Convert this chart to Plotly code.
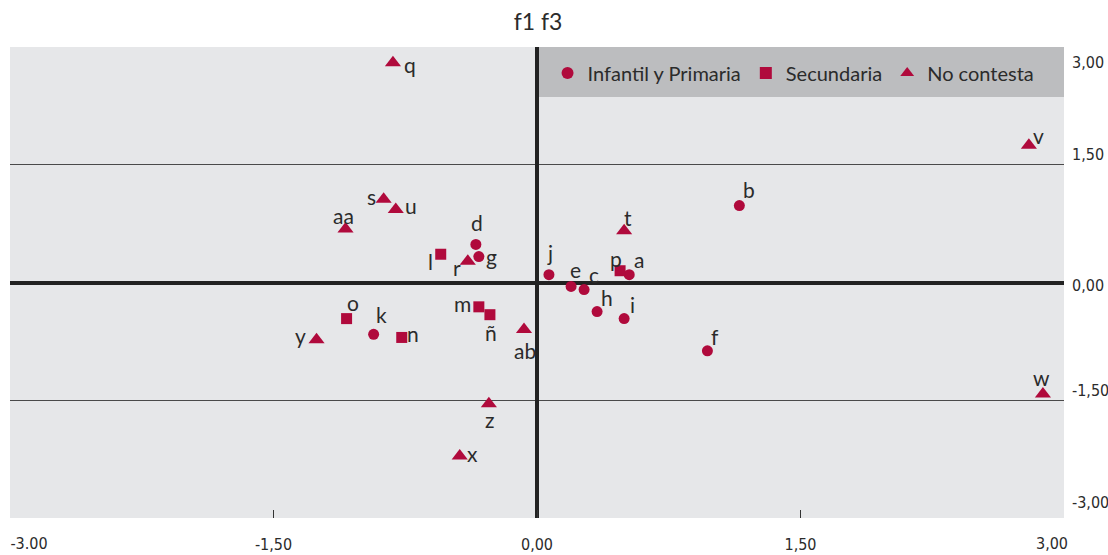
import plotly.graph_objects as go

# Factor scores (f1 on x, f3 on y) for each respondent group
infantil_labels = ["a", "b", "c", "d", "e", "f", "g", "h", "i", "j", "k"]
infantil_f1 = [0.525, 1.152, 0.268, -0.348, 0.194, 0.97, -0.331, 0.342, 0.496, 0.068, -0.93]
infantil_f3 = [0.10, 0.98, -0.09, 0.485, -0.05, -0.87, 0.33, -0.37, -0.46, 0.10, -0.66]

secundaria_labels = ["l", "m", "n", "ñ", "o", "p"]
secundaria_f1 = [-0.548, -0.331, -0.77, -0.268, -1.084, 0.473]
secundaria_f3 = [0.36, -0.31, -0.70, -0.41, -0.46, 0.15]

nocontesta_labels = ["q", "r", "s", "t", "u", "v", "w", "x", "y", "z", "aa", "ab"]
nocontesta_f1 = [-0.82, -0.394, -0.873, 0.496, -0.804, 2.80, 2.88, -0.44, -1.255, -0.274, -1.09, -0.074]
nocontesta_f3 = [2.80, 0.27, 1.06, 0.66, 0.93, 1.75, -1.42, -2.21, -0.73, -1.545, 0.68, -0.60]

tick_vals = [-3, -1.5, 0, 1.5, 3]
x_tick_text = ["-3.00", "-1,50", "0,00", "1,50", "3,00"]
y_tick_text = ["-3,00", "-1,50", "0,00", "1,50", "3,00"]

# Label placement: pixel offset of each label's centre from its marker (dx right, dy down)
label_offsets = {
    "a": (10, -15), "b": (10, -16), "c": (10, -15), "d": (1, -22), "e": (4, -17),
    "f": (8, -14), "g": (13, 0), "h": (10, -14), "i": (8, -14), "j": (1, -22),
    "k": (8, -20), "l": (-10, 7), "m": (-16, -3), "n": (11, -4), "ñ": (1, 18),
    "o": (6, -16), "p": (-4, -12), "q": (17, 2), "r": (-11, 6), "s": (-12, -3),
    "t": (4, -13), "u": (15, -4), "v": (10, -10), "w": (-1, -16), "x": (13, -2),
    "y": (-16, -4), "z": (1, 16), "aa": (-2, -14), "ab": (1, 21),
}

MARK = "#B00A3C"
TXT = "#2b2b2b"
SANS = "Lato, Open Sans, sans-serif"
LABEL_FONT = dict(family=SANS, size=21, color=TXT)
TICK_FONT = dict(family="Liberation Sans Narrow, DejaVu Sans Condensed, sans-serif", size=16, color=TXT)

fig = go.Figure()
groups = [
    ("Infantil y Primaria", "circle", 11, infantil_f1, infantil_f3, infantil_labels),
    ("Secundaria", "square", 11, secundaria_f1, secundaria_f3, secundaria_labels),
    ("No contesta", "triangle-up", 14, nocontesta_f1, nocontesta_f3, nocontesta_labels),
]
for name, symbol, size, xs, ys, labels in groups:
    fig.add_trace(go.Scatter(
        x=xs, y=ys, mode="markers", name=name,
        marker=dict(symbol=symbol, size=size, color=MARK), hoverinfo="skip",
    ))
    for xv, yv, lab in zip(xs, ys, labels):
        dx, dy = label_offsets[lab]
        fig.add_annotation(x=xv, y=yv, xref="x", yref="y", text=lab, showarrow=False,
                           xanchor="center", yanchor="middle", xshift=dx, yshift=-dy,
                           font=LABEL_FONT)

# Empty traces that bring the label-only overlay axes into the figure
for xa, ya in [("x2", "y"), ("x3", "y"), ("x", "y2"), ("x", "y3"), ("x", "y4")]:
    fig.add_trace(go.Scatter(x=[], y=[], xaxis=xa, yaxis=ya, showlegend=False, hoverinfo="skip"))

# Darker band behind the legend in the upper-right quadrant
fig.add_shape(type="rect", xref="x", yref="paper", x0=0, x1=3, y0=0.894, y1=1,
              fillcolor="#BCBDBF", line_width=0, layer="below")


def label_axis(idx, shift, **kw):
    """Overlay axis that only carries a subset of the tick labels, nudged along the axis."""
    return dict(range=[-3, 3], tickvals=[tick_vals[i] for i in idx], ticks="",
                showgrid=False, zeroline=False, showline=False, fixedrange=True,
                automargin=False, ticklabelshift=shift, ticklabeloverflow="allow",
                tickfont=TICK_FONT, **kw)


fig.update_layout(
    width=1108, height=555,
    margin=dict(l=10, r=44, t=47, b=37, autoexpand=False),
    paper_bgcolor="white",
    plot_bgcolor="#E6E7E9",
    title=dict(text="f1 f3", x=0.4856, xanchor="center", y=1 - 22 / 555, yanchor="middle",
               yref="container", font=dict(family=SANS, size=23, color=TXT)),
    showlegend=True,
    legend=dict(orientation="h", x=0.51, xanchor="left", y=0.945, yanchor="middle",
                bgcolor="rgba(0,0,0,0)", font=dict(family=SANS, size=20, color=TXT),
                itemsizing="constant"),
    xaxis=dict(range=[-3, 3], tickvals=tick_vals, ticktext=["", x_tick_text[1], x_tick_text[2], x_tick_text[3], ""],
               showgrid=False, zeroline=True, zerolinecolor="#222222", zerolinewidth=3.5,
               ticks="inside", ticklen=8, tickcolor="#333333", tickwidth=1,
               ticklabelstandoff=15, ticklabeloverflow="allow", tickfont=TICK_FONT,
               showline=False, fixedrange=True, automargin=False),
    xaxis2=label_axis([0], 19, overlaying="x", anchor="y", side="bottom",
                      ticktext=[x_tick_text[0]], ticklabelstandoff=14),
    xaxis3=label_axis([4], -12, overlaying="x", anchor="y", side="bottom",
                      ticktext=[x_tick_text[4]], ticklabelstandoff=14),
    yaxis=dict(range=[-3, 3], tickvals=tick_vals, ticktext=["", y_tick_text[1], "", y_tick_text[3], ""],
               side="right", showgrid=True, gridcolor="#4a4a4a", gridwidth=1,
               zeroline=True, zerolinecolor="#222222", zerolinewidth=3.5,
               ticks="", ticklabelstandoff=7, ticklabelshift=-10, ticklabeloverflow="allow",
               tickfont=TICK_FONT, showline=False, fixedrange=True, automargin=False),
    yaxis2=label_axis([4], 15, overlaying="y", anchor="x", side="right",
                      ticktext=[y_tick_text[4]], ticklabelstandoff=7),
    yaxis3=label_axis([0], -16, overlaying="y", anchor="x", side="right",
                      ticktext=[y_tick_text[0]], ticklabelstandoff=7),
    yaxis4=label_axis([2], 3, overlaying="y", anchor="x", side="right",
                      ticktext=[y_tick_text[2]], ticklabelstandoff=7),
)

fig.write_html("out.html")
